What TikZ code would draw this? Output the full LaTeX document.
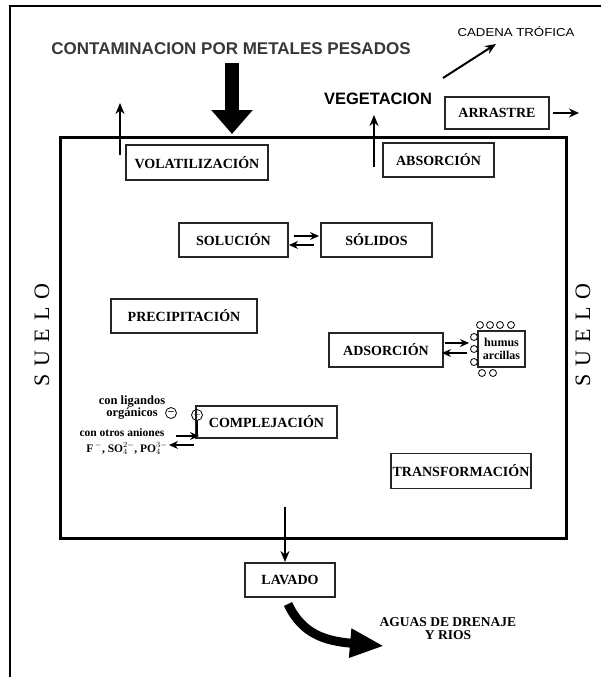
\documentclass[tikz,border=0pt]{standalone}
\usepackage{fontspec}
\setmainfont{Liberation Serif}
\newfontfamily\sansfont{Liberation Sans}
\newfontfamily\handfont{Liberation Sans}[FakeStretch=1.15]
\usetikzlibrary{arrows.meta}
\def\suelotext{S\kern8ptU\kern8ptE\kern8ptL\kern8ptO}
\begin{document}
\begin{tikzpicture}[x=1pt,y=-1pt,
  procbox/.style={draw=black!85, line width=1.3pt, inner sep=0pt,
    font=\bfseries\fontsize{14}{16}\selectfont},
  thinarrow/.style={line width=1.8pt, -{Stealth[length=11pt,width=9pt]}},
  eqarrow/.style={line width=1.2pt, -{Stealth[length=9pt,width=8pt]}},
  bead/.style={draw=black, line width=0.8pt, fill=white},
  smalltxt/.style={font=\bfseries\fontsize{12.5}{11.5}\selectfont, align=center, inner sep=0pt},
  suelolbl/.style={font=\fontsize{22}{22}\selectfont, rotate=90, inner sep=0pt}]
\useasboundingbox (0,0) rectangle (601,677);
\fill[white] (0,0) rectangle (601,677);
% outer frame
\draw[line width=2pt] (10,677) -- (10,6) -- (601,6);
% main soil box
\node[draw=black, line width=3pt, minimum width=506pt, minimum height=401pt, inner sep=0pt] (soil) at (313,337.5) {};
% titles
\node[font=\sansfont\bfseries\fontsize{17}{17}\selectfont, text=black!78, inner sep=0pt] (contam) at (231,49) {CONTAMINACION POR METALES PESADOS};
\node[font=\sansfont\bfseries\fontsize{16.5}{16.5}\selectfont, inner sep=0pt] (veget) at (378,99) {VEGETACION};
\node[font=\handfont\fontsize{11.5}{11.5}\selectfont, inner sep=0pt] (cadena) at (516,32) {CADENA TRÓFICA};
\node[suelolbl] (suelol) at (42,335) {\suelotext};
\node[suelolbl] (suelor) at (583,335) {\suelotext};
% boxes
\node[procbox, minimum width=142pt, minimum height=35pt] (vol) at (197,162.5) {VOLATILIZACIÓN};
\node[procbox, minimum width=111pt, minimum height=34pt] (abs) at (438.5,160) {ABSORCIÓN};
\node[procbox, minimum width=104pt, minimum height=32pt] (arr) at (497,113) {ARRASTRE};
\node[procbox, minimum width=109pt, minimum height=34pt] (sol) at (233.5,240) {SOLUCIÓN};
\node[procbox, minimum width=111pt, minimum height=34pt] (solid) at (376.5,240) {SÓLIDOS};
\node[procbox, minimum width=146pt, minimum height=34pt] (prec) at (184,316) {PRECIPITACIÓN};
\node[procbox, minimum width=114pt, minimum height=34pt] (ads) at (386,350) {ADSORCIÓN};
\node[procbox, minimum width=47pt, minimum height=36pt, align=center,
  font=\bfseries\fontsize{12}{13.5}\selectfont] (hum) at (501.5,349) {humus\\arcillas};
\node[procbox, minimum width=141pt, minimum height=32pt] (comp) at (266.5,422) {COMPLEJACIÓN};
\node[procbox, minimum width=140pt, minimum height=35pt] (trans) at (461,471) {TRANSFORMACIÓN};
\node[procbox, minimum width=90pt, minimum height=34pt] (lav) at (290,580) {LAVADO};
\node[font=\bfseries\fontsize{13.5}{13}\selectfont, align=center, inner sep=0pt] (aguas) at (448,629) {AGUAS DE DRENAJE\\Y RIOS};
% complexation labels
\node[smalltxt] (lig) at (132,407.5) {con ligandos\\orgánicos};
\node[smalltxt, font=\bfseries\fontsize{11.5}{11.5}\selectfont] (anio1) at (122,433) {con otros aniones};
\node[smalltxt, font=\bfseries\fontsize{11.5}{11.5}\selectfont] (anio2) at (127,448.5) {F$^{\,-}$, SO$_4^{2-}$, PO$_4^{3-}$};
\node[draw, circle, line width=0.8pt, minimum size=11pt, inner sep=0pt, font=\bfseries\fontsize{11}{11}\selectfont] (minus) at (171,413) {\raisebox{0.5pt}{--}};
\node[draw, circle, line width=0.8pt, minimum size=11pt, inner sep=0pt, font=\fontsize{10}{10}\selectfont] (plus) at (197,415) {$+$};
\coordinate (plusfoot) at (197,436);
\draw[line width=1.2pt] (plus) -- (plusfoot);
% humus beads
\foreach \i/\px/\py in {1/480/325,2/490/325,3/500/325,4/511/325,5/474/337,6/474/349,7/474/362,8/482/373,9/493/373}
  \node[bead, circle, minimum size=7pt, inner sep=0pt] (bead\i) at (\px,\py) {};
% coordinates for arrows
\coordinate (bigtop) at (232,63);
\coordinate (bigtip) at (232,134);
\coordinate (volbot) at (120,155);
\coordinate (voltop) at (120,103);
\coordinate (absbot) at (374,167);
\coordinate (abstop) at (374,115);
\coordinate (arrs) at (553,113);
\coordinate (arre) at (579,113);
\coordinate (cads) at (443,78);
\coordinate (cade) at (496,44);
\coordinate (e1a) at (294,236); \coordinate (e1b) at (319,236);
\coordinate (e2a) at (314,245); \coordinate (e2b) at (289,245);
\coordinate (e3a) at (445,343); \coordinate (e3b) at (469,343);
\coordinate (e4a) at (467,353); \coordinate (e4b) at (442,353);
\coordinate (e5a) at (176,436); \coordinate (e5b) at (199,436);
\coordinate (e6a) at (194,445); \coordinate (e6b) at (169,445);
\coordinate (lavs) at (285,507);
\coordinate (lave) at (285,562);
\coordinate (curs) at (288,604);
\coordinate (cure) at (384,646);
% arrows
\draw[line width=14pt, -{Triangle[length=24pt,width=40pt]}] (bigtop) -- (bigtip);
\draw[thinarrow] (volbot) -- (voltop);
\draw[thinarrow] (absbot) -- (abstop);
\draw[line width=1.5pt, -{Stealth[length=10pt,width=9pt]}] (arrs) -- (arre);
\draw[line width=2pt, -{Stealth[length=11pt,width=9pt]}] (cads) -- (cade);
\draw[eqarrow] (e1a) -- (e1b);
\draw[eqarrow] (e2a) -- (e2b);
\draw[eqarrow] (e3a) -- (e3b);
\draw[eqarrow] (e4a) -- (e4b);
\draw[eqarrow] (e5a) -- (e5b);
\draw[eqarrow] (e6a) -- (e6b);
\draw[thinarrow] (lavs) -- (lave);
\draw[line width=9pt, -{Triangle[length=34pt,width=27pt]}] (curs) .. controls (302,634) and (325,641) .. (cure);
\end{tikzpicture}
\end{document}
